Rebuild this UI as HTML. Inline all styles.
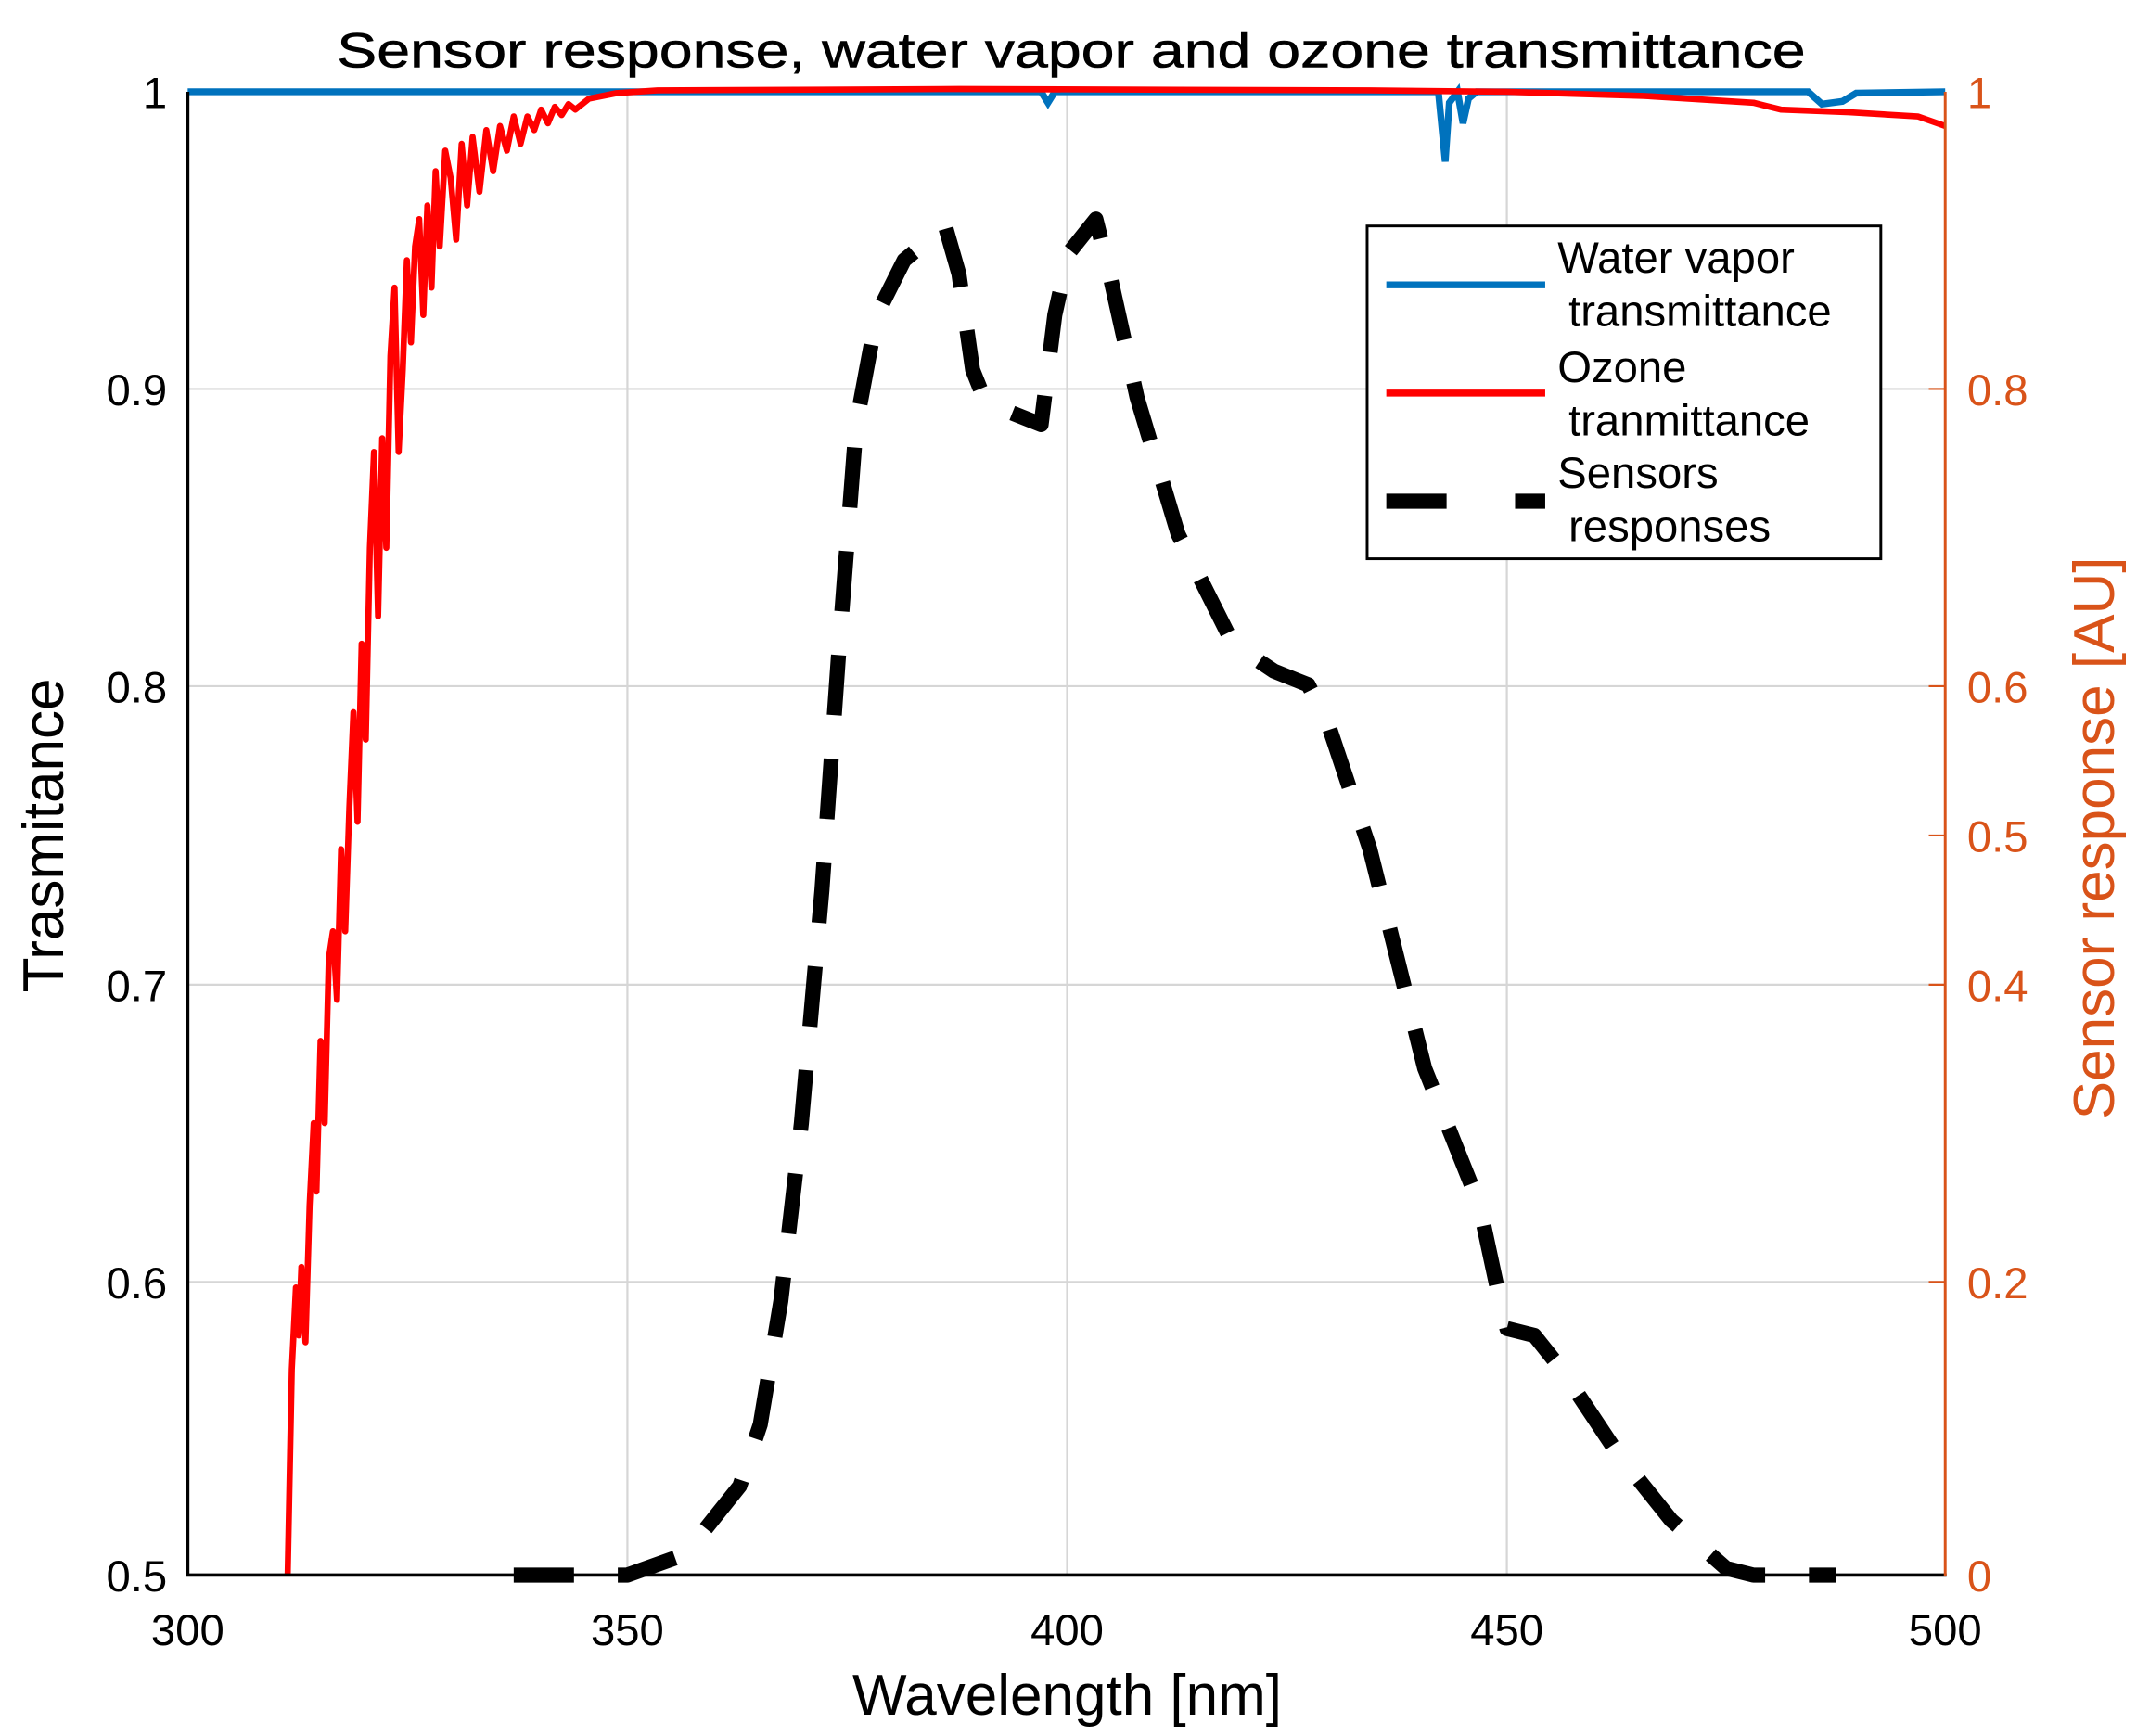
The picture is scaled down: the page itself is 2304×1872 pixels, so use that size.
<!DOCTYPE html>
<html><head><meta charset="utf-8"><style>html,body{margin:0;padding:0;background:#fff}svg{display:block}</style></head>
<body>
<svg width="2304" height="1872" viewBox="0 0 1560 1267.5" xmlns="http://www.w3.org/2000/svg" font-family="Liberation Sans, sans-serif">
<rect width="1560" height="1267.5" fill="#fff"/>
<g stroke="#d6d6d6" stroke-width="1.5">
<line x1="458" y1="67" x2="458" y2="1150"/><line x1="779" y1="67" x2="779" y2="1150"/><line x1="1100" y1="67" x2="1100" y2="1150"/>
<line x1="137" y1="284" x2="1420" y2="284"/><line x1="137" y1="501" x2="1420" y2="501"/><line x1="137" y1="719" x2="1420" y2="719"/><line x1="137" y1="936" x2="1420" y2="936"/>
</g>
<g stroke="#D95319" stroke-width="1.5">
<line x1="1420" y1="284" x2="1408" y2="284"/><line x1="1420" y1="501" x2="1408" y2="501"/><line x1="1420" y1="610" x2="1408" y2="610"/><line x1="1420" y1="719" x2="1408" y2="719"/><line x1="1420" y1="936" x2="1408" y2="936"/>
</g>
<polyline fill="none" stroke="#0072BD" stroke-width="5" points="137,67 760,67 765,75 770,67 1050,67 1055,118 1058,75 1064,67 1068,90 1072,72 1078,67 1320,67 1330,76 1345,74 1355,68 1420,67"/>
<polyline fill="none" stroke="#ff0000" stroke-width="4.5" stroke-linejoin="round" points="210,1150 213,1000 216,940 218,975 220,925 223,980 226,880 229,820 231,870 234,760 237,820 240,700 243,680 246,730 249,620 252,680 255,590 258,520 261,600 264,470 267,540 270,400 273,330 276,450 279,320 282,400 285,260 288,210 291,330 294,270 297,190 300,250 303,180 306,160 309,230 312,150 315,210 318,125 321,180 325,110 329,130 333,175 337,105 341,150 345,100 350,140 355,95 360,125 365,92 370,110 375,85 380,105 385,85 390,95 395,80 400,90 405,78 410,84 415,76 420,80 430,72 450,68 480,66 700,65 1000,66 1100,67 1200,70 1280,75 1300,80 1350,82 1400,85 1420,92"/>
<polyline fill="none" stroke="#000" stroke-width="11" stroke-dasharray="44 32" stroke-linejoin="round" points="375,1150 458,1150 500,1135 540,1085 555,1040 570,950 585,820 600,650 612,480 625,310 640,230 660,190 690,165 700,200 710,270 720,295 735,300 760,310 770,230 780,185 800,160 810,200 830,290 860,390 900,470 930,490 955,500 970,530 1000,620 1020,700 1040,780 1060,830 1080,880 1095,950 1100,970 1120,975 1140,1000 1180,1060 1220,1110 1260,1145 1280,1150 1340,1150"/>
<line x1="137" y1="67" x2="137" y2="1151" stroke="#000" stroke-width="2.5"/>
<line x1="136" y1="1150" x2="1421" y2="1150" stroke="#000" stroke-width="2.5"/>
<line x1="1420" y1="67" x2="1420" y2="1151" stroke="#D95319" stroke-width="2"/>
<g font-size="32" fill="#000" text-anchor="end">
<text x="122" y="79">1</text><text x="122" y="296">0.9</text><text x="122" y="513">0.8</text><text x="122" y="731">0.7</text><text x="122" y="948">0.6</text><text x="122" y="1162">0.5</text>
</g>
<g font-size="32" fill="#D95319">
<text x="1436" y="79">1</text><text x="1436" y="296">0.8</text><text x="1436" y="513">0.6</text><text x="1436" y="622">0.5</text><text x="1436" y="731">0.4</text><text x="1436" y="948">0.2</text><text x="1436" y="1162">0</text>
</g>
<g font-size="32" fill="#000" text-anchor="middle">
<text x="137" y="1201">300</text><text x="458" y="1201">350</text><text x="779" y="1201">400</text><text x="1100" y="1201">450</text><text x="1420" y="1201">500</text>
</g>
<text x="779" y="1252" font-size="42" text-anchor="middle">Wavelength [nm]</text>
<text x="0" y="0" font-size="42" text-anchor="middle" transform="translate(46,610) rotate(-90)">Trasmitance</text>
<text x="0" y="0" font-size="42" fill="#D95319" text-anchor="middle" transform="translate(1543,612) rotate(-90)">Sensor response [AU]</text>
<text x="782" y="49" font-size="36" text-anchor="middle" textLength="1072" lengthAdjust="spacingAndGlyphs" stroke="#000" stroke-width="0.4">Sensor response, water vapor and ozone transmittance</text>
<rect x="998" y="165" width="375" height="243" fill="#fff" stroke="#000" stroke-width="2"/>
<line x1="1012" y1="208" x2="1128" y2="208" stroke="#0072BD" stroke-width="5"/>
<line x1="1012" y1="287" x2="1128" y2="287" stroke="#ff0000" stroke-width="5"/>
<line x1="1012" y1="366" x2="1128" y2="366" stroke="#000" stroke-width="11" stroke-dasharray="44 50"/>
<g font-size="32" fill="#000">
<text x="1137" y="199">Water vapor</text><text x="1145" y="238">transmittance</text>
<text x="1137" y="279">Ozone</text><text x="1145" y="318">tranmittance</text>
<text x="1137" y="356">Sensors</text><text x="1145" y="395">responses</text>
</g>
</svg>
</body></html>
